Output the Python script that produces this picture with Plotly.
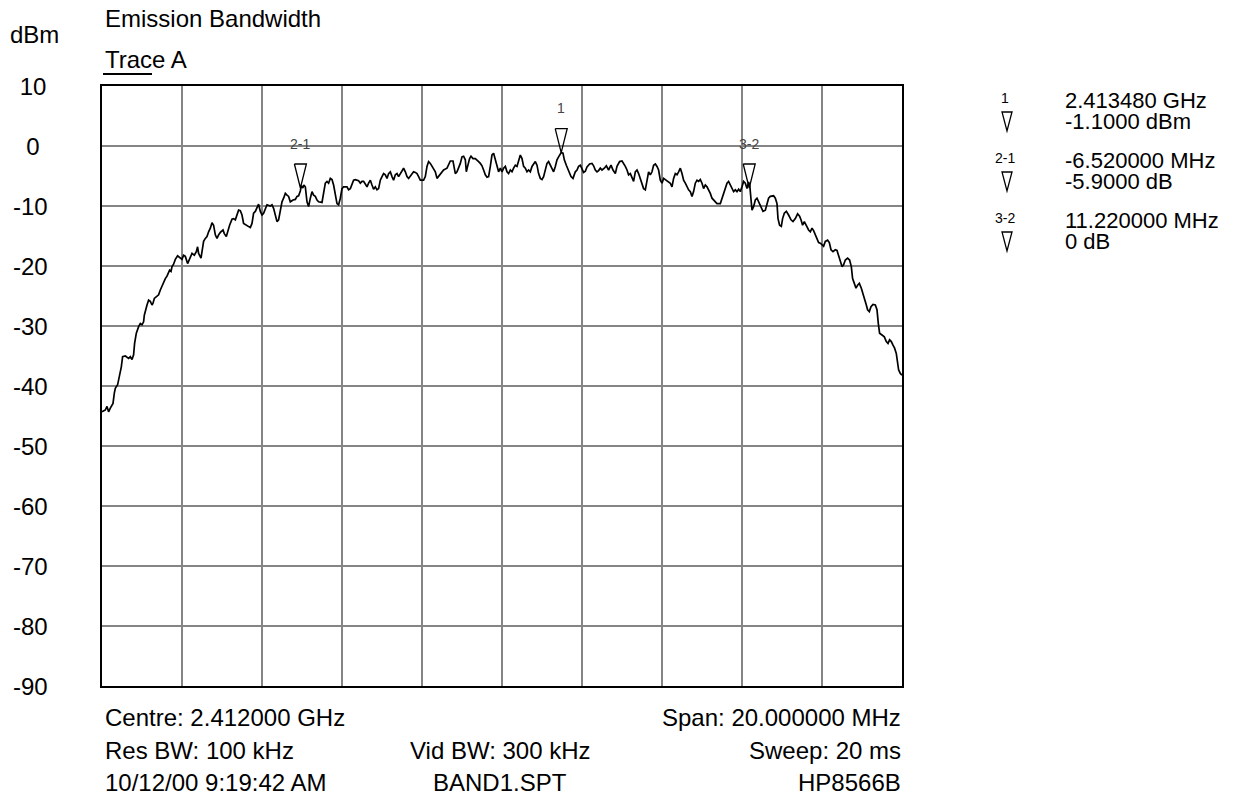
import plotly.graph_objects as go

# ---------------- data ----------------
START_MHZ = 2402.0          # left edge of the sweep
SPAN_MHZ = 20.0

# frequency offset from start (MHz) and measured level (dBm)
offset_mhz = [
    0.000, 0.083, 0.125, 0.165, 0.208, 0.275, 0.308, 0.333, 0.390, 0.440,
    0.483, 0.515, 0.583, 0.665, 0.708, 0.750, 0.790, 0.815, 0.858, 0.915,
    0.958, 1.000, 1.040, 1.058, 1.100, 1.125, 1.165, 1.208, 1.250, 1.275,
    1.308, 1.375, 1.415, 1.458, 1.500, 1.540, 1.583, 1.625, 1.665, 1.690,
    1.725, 1.750, 1.790, 1.833, 1.890, 1.958, 2.000, 2.040, 2.083, 2.140,
    2.190, 2.250, 2.308, 2.358, 2.390, 2.415, 2.475,
    2.540, 2.583, 2.625, 2.665, 2.708, 2.750, 2.790, 2.833, 2.875, 2.915,
    2.958, 3.025, 3.058, 3.108, 3.140, 3.190, 3.250, 3.290, 3.333, 3.375,
    3.415, 3.458, 3.500, 3.540, 3.625, 3.708, 3.750, 3.790, 3.833, 3.875,
    3.915, 3.958, 4.000, 4.040, 4.083, 4.125, 4.208, 4.250, 4.290, 4.333,
    4.375, 4.415, 4.458, 4.500, 4.540, 4.583, 4.625, 4.665, 4.708, 4.775,
    4.833, 4.875, 4.915, 4.958, 4.983, 5.020, 5.045, 5.083, 5.125, 5.165,
    5.208, 5.250, 5.290, 5.333, 5.375, 5.415, 5.500, 5.540, 5.583, 5.625,
    5.665, 5.708, 5.750, 5.790, 5.833, 5.875, 5.915, 5.958, 6.000, 6.040,
    6.125, 6.165, 6.208, 6.250, 6.290, 6.333, 6.415, 6.458, 6.500, 6.540,
    6.583, 6.625, 6.665, 6.708, 6.750, 6.790, 6.833, 6.875, 6.915, 6.958,
    7.000, 7.040, 7.083, 7.125, 7.165, 7.208, 7.250, 7.290, 7.333, 7.375,
    7.415, 7.458, 7.500, 7.540, 7.583, 7.625, 7.665, 7.708, 7.750, 7.790,
    7.833, 7.875, 7.915, 7.958, 8.040, 8.083, 8.125, 8.165, 8.208, 8.250,
    8.290, 8.333, 8.375, 8.415, 8.458, 8.500, 8.540, 8.625, 8.665, 8.708,
    8.775, 8.808, 8.833, 8.875, 8.915, 8.958, 9.000, 9.040, 9.083, 9.108,
    9.140, 9.190, 9.225, 9.275, 9.333, 9.375, 9.415, 9.458, 9.500, 9.540,
    9.583, 9.625, 9.665, 9.708, 9.750, 9.790, 9.833, 9.875, 9.915, 9.958,
    10.000, 10.040, 10.083, 10.125, 10.165, 10.208, 10.250, 10.290, 10.333, 10.375,
    10.415, 10.458, 10.500, 10.540, 10.583, 10.625, 10.665, 10.708, 10.750, 10.790,
    10.833, 10.875, 10.915, 10.958, 11.000, 11.040, 11.083, 11.125, 11.165, 11.208,
    11.250, 11.290, 11.333, 11.375, 11.415, 11.480, 11.525, 11.558, 11.608, 11.665,
    11.725, 11.775, 11.833, 11.875, 11.915, 11.958, 12.000, 12.040, 12.083, 12.125,
    12.190, 12.250, 12.290, 12.333, 12.375, 12.415, 12.458, 12.500, 12.558, 12.608,
    12.665, 12.725, 12.775, 12.833, 12.875, 12.940, 13.000, 13.040, 13.083, 13.125,
    13.165, 13.208, 13.250, 13.290, 13.333, 13.375, 13.415, 13.458, 13.500, 13.540,
    13.583, 13.625, 13.665, 13.708, 13.750, 13.790, 13.833, 13.875, 13.915, 13.958,
    14.000, 14.040, 14.108, 14.165, 14.208, 14.250, 14.290, 14.333, 14.375, 14.415,
    14.458, 14.500, 14.540, 14.583, 14.625, 14.665, 14.708, 14.750, 14.790, 14.833,
    14.875, 14.915, 14.958, 15.000, 15.040, 15.083, 15.125, 15.165, 15.208, 15.250,
    15.290, 15.333, 15.375, 15.458, 15.500, 15.540, 15.583, 15.625, 15.665, 15.708,
    15.750, 15.790, 15.833, 15.875, 15.915, 15.958, 16.000, 16.040, 16.083, 16.125,
    16.165, 16.195, 16.220, 16.250, 16.290, 16.333, 16.375, 16.415, 16.458, 16.525,
    16.583, 16.625, 16.665, 16.708, 16.790, 16.833, 16.875, 16.900, 16.940, 16.983,
    17.015, 17.058, 17.108, 17.165, 17.225, 17.275, 17.333, 17.390, 17.440, 17.475,
    17.515, 17.558, 17.608, 17.665, 17.708, 17.750, 17.790, 17.833, 17.875, 17.915,
    17.958, 18.000, 18.040, 18.083, 18.140, 18.183, 18.225, 18.275, 18.333, 18.375,
    18.415, 18.458, 18.500, 18.540, 18.583, 18.640, 18.690, 18.733, 18.765, 18.808,
    18.850, 18.890, 18.933, 18.983, 19.025, 19.065, 19.108, 19.140, 19.183, 19.225,
    19.275, 19.333, 19.375, 19.408, 19.440, 19.500, 19.558, 19.608, 19.650, 19.690,
    19.733, 19.775, 19.815, 19.858, 19.890, 19.915, 19.958, 20.000,
]

level_dbm = [
    -44.3, -44.0, -43.4, -44.3, -43.7, -42.9, -41.2, -40.4, -39.8, -38.4,
    -36.8, -35.1, -35.0, -35.4, -35.1, -35.6, -34.8, -32.9, -31.2, -30.1,
    -29.6, -29.8, -29.3, -28.2, -26.8, -26.5, -25.7, -25.9, -26.5, -26.2,
    -25.4, -25.0, -24.8, -24.0, -23.4, -22.6, -22.1, -21.7, -21.2, -20.7,
    -20.9, -20.1, -19.7, -18.9, -18.3, -18.6, -18.9, -18.2, -18.4, -19.6,
    -18.7, -17.9, -18.2, -17.6, -16.8, -17.9, -18.7,
    -15.9, -15.4, -15.1, -14.3, -13.7, -12.8, -13.2, -14.8, -15.4, -14.8,
    -14.4, -14.0, -14.6, -15.1, -14.3, -13.2, -12.2, -12.1, -12.3, -11.5,
    -10.7, -10.8, -11.5, -12.9, -13.2, -13.6, -12.9, -11.2, -10.9, -10.1,
    -9.7, -10.9, -11.5, -11.2, -10.4, -9.8, -10.0, -9.8, -10.4, -11.5,
    -12.6, -12.3, -10.7, -9.3, -8.7, -7.9, -8.2, -8.4, -9.3, -9.0,
    -8.9, -8.4, -8.3, -7.5, -6.6, -7.0, -6.5, -6.8, -9.3, -10.1,
    -8.7, -7.6, -8.2, -8.4, -9.0, -9.3, -9.4, -7.9, -6.2, -5.9,
    -6.2, -5.4, -5.6, -6.5, -8.4, -9.6, -9.8, -8.7, -7.1, -6.8,
    -6.8, -7.3, -7.1, -6.2, -5.7, -5.6, -5.8, -6.2, -5.9, -5.9,
    -6.5, -6.8, -6.2, -5.7, -6.5, -7.2, -6.8, -7.3, -7.1, -5.7,
    -5.1, -4.6, -4.8, -5.4, -4.6, -4.3, -5.1, -5.7, -4.8, -4.6,
    -5.1, -4.6, -4.0, -3.7, -4.3, -5.1, -5.4, -5.0, -4.6, -4.3,
    -4.4, -4.6, -5.1, -5.7, -5.7, -5.1, -3.4, -2.6, -2.9, -3.4,
    -3.7, -4.3, -5.4, -5.1, -4.6, -4.3, -4.0, -3.7, -3.1, -2.5,
    -2.5, -3.4, -4.6, -4.3, -3.7, -2.9, -1.8, -1.7, -2.3, -4.3,
    -3.4, -2.1, -1.7, -2.1, -2.1, -2.3, -2.6, -2.9, -3.3, -4.0,
    -4.8, -5.2, -5.1, -3.4, -1.5, -1.2, -2.3, -3.2, -4.3, -3.7,
    -4.3, -3.7, -3.4, -4.3, -4.6, -4.0, -4.3, -3.7, -3.2, -3.4,
    -2.3, -1.5, -2.1, -3.4, -3.7, -4.3, -4.0, -4.3, -3.4, -3.0,
    -2.6, -3.2, -4.6, -5.4, -5.6, -5.1, -4.0, -2.9, -2.6, -3.2,
    -4.0, -4.3, -3.4, -2.3, -1.8, -1.1, -1.2, -2.3, -3.2, -4.0,
    -5.1, -5.4, -4.3, -4.0, -3.4, -3.2, -3.7, -4.4, -4.2, -3.5,
    -3.0, -2.9, -3.3, -4.0, -4.3, -4.1, -3.7, -4.0, -3.7, -3.3,
    -4.0, -3.2, -4.0, -4.6, -3.4, -2.6, -2.5, -2.9, -3.4, -4.0,
    -4.8, -4.6, -5.4, -5.9, -4.3, -4.0, -4.6, -5.4, -6.2, -7.1,
    -7.3, -5.7, -4.3, -4.8, -4.3, -3.2, -3.0, -3.4, -4.0, -5.7,
    -6.2, -5.4, -5.7, -5.9, -6.2, -6.8, -5.4, -4.6, -4.8, -4.3,
    -3.7, -4.6, -5.7, -6.2, -6.8, -7.3, -7.6, -8.4, -7.6, -6.2,
    -5.7, -5.9, -5.6, -6.2, -7.1, -6.5, -6.8, -7.3, -7.9, -8.7,
    -9.0, -9.3, -9.6, -9.6, -8.7, -8.2, -7.3, -6.2, -5.9, -6.5,
    -7.3, -7.6, -7.3, -7.6, -7.2, -7.6, -6.8, -5.9, -6.2, -7.1,
    -6.0, -6.6, -8.5, -10.7, -10.1, -9.0, -8.7, -9.3, -10.1, -10.9,
    -10.7, -9.6, -8.7, -8.4, -8.3, -8.7, -9.6, -12.1, -13.2, -13.4,
    -12.1, -11.2, -10.9, -11.5, -12.3, -12.6, -12.1, -11.3, -11.7, -12.3,
    -13.2, -12.6, -13.4, -14.0, -14.3, -13.7, -14.1, -14.8, -15.7, -16.1,
    -16.2, -16.5, -16.7, -15.9, -15.7, -16.1, -17.3, -17.6, -17.3, -17.4,
    -18.2, -19.0, -20.1, -19.8, -19.0, -18.7, -19.0, -20.1, -22.1, -22.9,
    -23.7, -23.2, -22.9, -23.7, -24.8, -25.4, -26.5, -27.3, -27.6, -26.8,
    -26.4, -26.5, -27.3, -29.6, -31.2, -31.5, -31.8, -32.6, -32.9, -32.3,
    -32.6, -33.2, -33.7, -34.6, -35.9, -37.3, -37.9, -38.2,
]

freq_mhz = [START_MHZ + d for d in offset_mhz]

y_ticks = [10, 0, -10, -20, -30, -40, -50, -60, -70, -80, -90]
x_grid_step_mhz = 2.0

# markers
marker1_freq_mhz = 2413.480
marker1_level_dbm = -1.1
delta21_mhz, delta21_db = -6.52, -5.9
delta32_mhz, delta32_db = 11.22, 0.0
marker_names = ["1", "2-1", "3-2"]

marker_freqs = [marker1_freq_mhz,
                marker1_freq_mhz + delta21_mhz,
                marker1_freq_mhz + delta21_mhz + delta32_mhz]
marker_levels = [marker1_level_dbm,
                 marker1_level_dbm + delta21_db,
                 marker1_level_dbm + delta21_db + delta32_db]

readout_lines = [
    ("1", "2.413480 GHz", "-1.1000 dBm"),
    ("2-1", "-6.520000 MHz", "-5.9000 dB"),
    ("3-2", "11.220000 MHz", "0 dB"),
]

title_text = "Emission Bandwidth"
trace_name = "Trace A"
unit_text = "dBm"
footer_rows = [
    ("Centre: 2.412000 GHz", "", "Span: 20.000000 MHz"),
    ("Res BW: 100 kHz", "Vid BW: 300 kHz", "Sweep: 20 ms"),
    ("10/12/00 9:19:42 AM", "BAND1.SPT", "HP8566B"),
]

# ---------------- layout geometry ----------------
W, H = 1251, 802
ML, MR, MT, MB = 102, 349, 86, 116
PW, PH = W - ML - MR, H - MT - MB
FONT = "Liberation Sans, Arial, Helvetica, sans-serif"
FS = 24
FS_READ = 22
SMALL = 14


def px(x):
    return (x - ML) / PW


def py(y):
    return (H - MB - y) / PH


def txt(x, y, text, anchor="left", size=FS, color="black", xref="paper", yref="paper",
        box_h=None):
    d = dict(x=x, y=y, xref=xref, yref=yref, text=text, showarrow=False,
             xanchor=anchor, yanchor="middle",
             font=dict(family=FONT, size=size, color=color))
    if box_h is not None:
        d["height"] = box_h
        d["valign"] = "middle"
    return d


fig = go.Figure()

fig.add_trace(go.Scatter(
    x=freq_mhz, y=level_dbm, mode="lines",
    line=dict(color="black", width=1.7), hoverinfo="skip", showlegend=False,
))

annotations = []
shapes = []

# marker triangles (outline, pointing down onto the marker level)
tri_half_w = 0.15   # MHz
tri_h = 4.0         # dB
for f, lv, name in zip(marker_freqs, marker_levels, marker_names):
    fig.add_trace(go.Scatter(
        x=[f - tri_half_w, f + tri_half_w, f, f - tri_half_w],
        y=[lv + tri_h, lv + tri_h, lv, lv + tri_h],
        mode="lines", line=dict(color="black", width=1.3),
        hoverinfo="skip", showlegend=False,
    ))
    annotations.append(txt(f, lv + 7.4, name, anchor="center", size=SMALL,
                           color="#444444", xref="x", yref="y"))

# y tick labels (left-padded like the instrument printout)
for t in y_ticks:
    lab = str(t).rjust(3, "\u00a0")
    annotations.append(txt(px(11), t, lab, yref="y"))

annotations.append(txt(px(103), py(18), title_text))
annotations.append(txt(px(8), py(34), unit_text))
annotations.append(txt(px(103), py(59), trace_name))

# footer
row_y = [718, 750, 782]
for (left, mid, right), yy in zip(footer_rows, row_y):
    if left:
        annotations.append(txt(px(103), py(yy), left, "left"))
    if mid:
        annotations.append(txt(px(500), py(yy), mid, "center"))
    if right:
        annotations.append(txt(px(903), py(yy), right, "right"))

# marker readout on the right
for i, (name, l1, l2) in enumerate(readout_lines):
    y1 = 100 + 60 * i
    y2 = y1 + 21
    annotations.append(txt(px(1005), py(y1 - 2), name, "center", size=SMALL))
    annotations.append(txt(px(1063), py(y1), l1, size=FS_READ, box_h=20))
    annotations.append(txt(px(1063), py(y2), l2, size=FS_READ, box_h=20))
    top, tip = y2 - 9, y2 + 10
    shapes.append(dict(type="path", xref="paper", yref="paper",
                       path=f"M {px(1002)} {py(top)} L {px(1012)} {py(top)} L {px(1007)} {py(tip)} Z",
                       line=dict(color="black", width=1.3)))

# underline under "Trace A"
shapes.append(dict(type="line", xref="paper", yref="paper",
                   x0=px(103), x1=px(152), y0=py(74), y1=py(74),
                   line=dict(color="black", width=2)))

fig.update_layout(
    width=W, height=H,
    margin=dict(l=ML, r=MR, t=MT, b=MB),
    paper_bgcolor="white", plot_bgcolor="white",
    showlegend=False,
    annotations=annotations, shapes=shapes,
    xaxis=dict(range=[START_MHZ, START_MHZ + SPAN_MHZ], tick0=START_MHZ,
               dtick=x_grid_step_mhz, showticklabels=False, ticks="",
               showgrid=True, gridcolor="#858585", gridwidth=1.6,
               showline=True, mirror=True, linecolor="black", linewidth=2,
               zeroline=False, fixedrange=True),
    yaxis=dict(range=[min(y_ticks), max(y_ticks)], tickvals=y_ticks,
               showticklabels=False, ticks="",
               showgrid=True, gridcolor="#858585", gridwidth=1.6,
               showline=True, mirror=True, linecolor="black", linewidth=2,
               zeroline=False, fixedrange=True),
)

fig.write_html("out.html")
